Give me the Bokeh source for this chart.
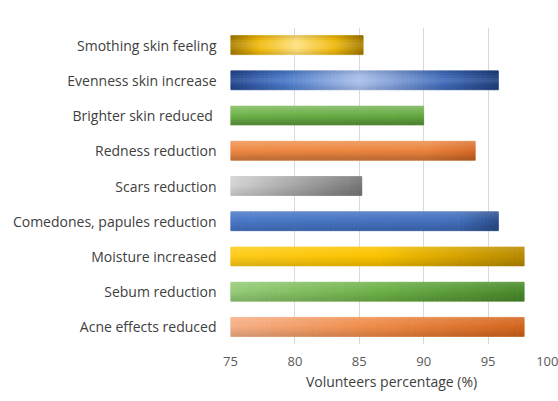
import numpy as np
from bokeh.plotting import figure
from bokeh.models import FactorRange, FixedTicker, ColumnDataSource
from bokeh.transform import dodge
from bokeh.embed import file_html
from bokeh.resources import INLINE

# ---- data -------------------------------------------------------------
categories = [
    "Smothing skin feeling",
    "Evenness skin increase",
    "Brighter skin  reduced",
    "Redness reduction",
    "Scars reduction",
    "Comedones, papules reduction",
    "Moisture increased",
    "Sebum reduction",
    "Acne effects reduced",
]
percentages = [85.3, 95.8, 90.0, 94.0, 85.2, 95.8, 97.8, 97.8, 97.8]
x_ticks = [75, 80, 85, 90, 95, 100]
x_start = 75
x_end = 100

# ---- bar fills: horizontal colour stops + vertical shading ------------
# (mode "center": lit in the middle row, "linear": lit at the top)
bar_styles = [
    ([(0, "#a47a00"), (0.22, "#f0b90a"), (0.5, "#ffe07c"), (0.78, "#f0b90a"), (1, "#a47a00")], "center", 0.14),
    ([(0, "#21448a"), (0.2, "#4776c6"), (0.48, "#aac0e9"), (0.8, "#3e68b6"), (1, "#1e3d7c")], "center", 0.12),
    ([(0, "#70b44b"), (1, "#66ab43")], "linear", 0.26),
    ([(0, "#f08b46"), (0.8, "#ec853f"), (1, "#d86c27")], "linear", 0.22),
    ([(0, "#d6d6d6"), (1, "#777777")], "linear", 0.12),
    ([(0, "#4b79c9"), (0.85, "#4470bd"), (1, "#2d4e8e")], "linear", 0.16),
    ([(0, "#ffcd1c"), (0.5, "#fbc400"), (1, "#b78900")], "linear", 0.14),
    ([(0, "#98cd7a"), (0.5, "#6fb24a"), (1, "#4a8a2c")], "linear", 0.14),
    ([(0, "#f7b28a"), (0.5, "#ef8b48"), (1, "#d3651e")], "linear", 0.14),
]

BAR_H = 0.54
N_COLS, N_ROWS = 64, 8


def to_rgb(h):
    h = h.lstrip("#")
    return np.array([int(h[i:i + 2], 16) for i in (0, 2, 4)], dtype=float)


def to_hex(c):
    c = np.clip(np.round(c), 0, 255).astype(int)
    return "#%02x%02x%02x" % tuple(c)


def interp_stops(stops, f):
    for (p0, c0), (p1, c1) in zip(stops[:-1], stops[1:]):
        if p0 <= f <= p1:
            w = 0 if p1 == p0 else (f - p0) / (p1 - p0)
            return to_rgb(c0) * (1 - w) + to_rgb(c1) * w
    return to_rgb(stops[-1][1])


def shade(rgb, amount):
    if amount >= 0:
        return rgb + (255 - rgb) * amount
    return rgb * (1 + amount)


# ---- figure -----------------------------------------------------------
p = figure(
    width=558, height=401,
    y_range=FactorRange(factors=list(reversed(categories))),
    x_range=(x_start, x_end),
    output_backend="svg", toolbar_location=None,
    min_border_left=230, min_border_right=6,
    min_border_top=27, min_border_bottom=57,
)
p.background_fill_color = "white"
p.border_fill_color = "white"
p.outline_line_color = None

# solid base bars
base_colors = [to_hex(interp_stops(s[0], 0.5)) for s in bar_styles]
p.hbar(y=categories, left=x_start, right=percentages, height=BAR_H,
       fill_color=base_colors, line_color=None)

# gradient overlay, built as a grid of thin cells per bar
for j in range(N_ROWS):
    t = (j + 0.5) / N_ROWS          # 0 = top edge, 1 = bottom edge
    offset = BAR_H / 2 - t * BAR_H
    ys, lefts, rights, cols = [], [], [], []
    for cat, val, (stops, mode, amp) in zip(categories, percentages, bar_styles):
        span = val - x_start
        if mode == "center":
            k = amp * (1 - 2 * abs(2 * t - 1))
        else:
            k = amp * (1 - 2 * t)
        for i in range(N_COLS):
            f = (i + 0.5) / N_COLS
            ys.append(cat)
            lefts.append(x_start + span * i / N_COLS)
            rights.append(x_start + span * (i + 1) / N_COLS)
            cols.append(to_hex(shade(interp_stops(stops, f), k)))
    src = ColumnDataSource(dict(cat=ys, left=lefts, right=rights, color=cols))
    p.hbar(y=dodge("cat", offset, range=p.y_range), left="left", right="right",
           height=BAR_H / N_ROWS, fill_color="color", line_color="color",
           line_width=0.6, source=src)

# ---- axes -------------------------------------------------------------
p.xgrid.grid_line_color = "#d9d9d9"
p.xgrid.grid_line_width = 1
p.ygrid.grid_line_color = None

p.xaxis.ticker = FixedTicker(ticks=x_ticks)
p.xaxis.axis_label = "Volunteers percentage (%)"
p.xaxis.axis_line_color = None
p.xaxis.major_tick_line_color = None
p.xaxis.minor_tick_line_color = None
p.xaxis.major_label_standoff = 6
p.xaxis.major_label_text_font = "Open Sans"
p.xaxis.major_label_text_font_size = "13px"
p.xaxis.major_label_text_color = "#595959"
p.xaxis.axis_label_standoff = 3
p.xaxis.axis_label_text_font = "Open Sans"
p.xaxis.axis_label_text_font_size = "14px"
p.xaxis.axis_label_text_font_style = "normal"
p.xaxis.axis_label_text_color = "#404040"

p.yaxis.axis_line_color = None
p.yaxis.major_tick_line_color = None
p.yaxis.minor_tick_line_color = None
p.yaxis.major_label_standoff = 8
p.yaxis.major_label_text_font = "Open Sans"
p.yaxis.major_label_text_font_size = "14px"
p.yaxis.major_label_text_color = "#404040"

open("out.html", "w").write(file_html(p, INLINE))
